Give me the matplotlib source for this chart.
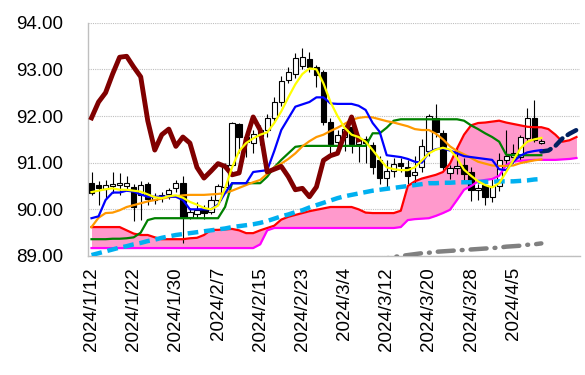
import matplotlib
matplotlib.use('Agg')
import matplotlib.pyplot as plt

# Daily candles (index 0 = 2024/1/12, weekdays only)
opens = [90.56, 90.52, 90.44, 90.50, 90.52, 90.50, 90.48, 90.30, 90.54, 90.20,
         90.25, 90.32, 90.45, 90.56, 89.84, 89.90, 89.98, 89.95, 90.20, 90.48,
         90.95, 91.82, 91.55, 91.42, 91.58, 91.70, 91.95, 92.30, 92.77, 92.90,
         93.08, 93.22, 93.05, 92.95, 91.87, 91.45, 91.55, 91.76, 91.40, 91.50,
         91.38, 91.05, 90.67, 90.82, 91.00, 90.90, 90.74, 90.90, 91.25, 91.95,
         91.63, 90.78, 90.88, 90.95, 90.80, 90.42, 90.52, 90.26, 90.50, 91.05,
         91.12, 91.12, 91.53, 91.96, 91.43]
highs = [90.80, 90.60, 90.62, 90.80, 90.78, 90.72, 90.55, 90.60, 90.58, 90.35,
         90.38, 90.45, 90.62, 90.72, 90.02, 90.15, 90.10, 90.28, 90.55, 91.00,
         91.88, 91.85, 91.62, 91.70, 91.80, 92.05, 92.40, 92.85, 93.05, 93.35,
         93.45, 93.38, 93.10, 92.98, 91.95, 91.70, 91.80, 91.82, 91.60, 91.58,
         91.45, 91.15, 91.05, 91.10, 91.10, 91.05, 91.15, 91.50, 92.05, 92.25,
         91.70, 90.95, 91.35, 91.10, 90.90, 90.55, 90.58, 90.65, 91.20, 91.70,
         91.40, 91.60, 92.17, 92.34, 91.50]
lows = [90.30, 90.10, 90.25, 90.35, 90.30, 90.40, 89.75, 89.78, 90.10, 90.12,
        90.15, 90.22, 90.38, 89.28, 89.80, 89.82, 89.80, 89.90, 90.10, 90.45,
        90.90, 91.20, 91.12, 91.20, 91.38, 91.55, 91.88, 92.22, 92.70, 92.82,
        93.00, 92.95, 92.62, 91.80, 91.20, 91.30, 91.25, 91.20, 91.02, 91.00,
        90.75, 90.55, 90.45, 90.70, 90.80, 90.55, 90.55, 90.80, 91.15, 91.55,
        90.85, 90.65, 90.75, 90.60, 90.18, 90.20, 90.10, 90.15, 90.40, 90.95,
        91.00, 91.05, 91.45, 91.45, 91.40]
closes = [90.36, 90.46, 90.52, 90.55, 90.56, 90.56, 90.05, 90.52, 90.22, 90.26,
          90.30, 90.42, 90.56, 89.84, 89.95, 89.98, 89.92, 90.20, 90.50, 90.95,
          91.85, 91.55, 91.45, 91.62, 91.70, 91.96, 92.30, 92.75, 92.95, 93.24,
          93.27, 93.05, 92.88, 91.88, 91.40, 91.60, 91.72, 91.40, 91.52, 91.42,
          90.90, 90.67, 90.82, 90.98, 90.92, 90.72, 90.80, 91.35, 92.00, 91.65,
          90.90, 90.88, 90.92, 90.75, 90.42, 90.46, 90.27, 90.50, 91.05, 91.15,
          91.20, 91.55, 91.96, 91.49, 91.47]

# Lines
ma5 = [90.37, 90.40, 90.43, 90.45, 90.42, 90.42, 90.40, 90.38, 90.32, 90.26,
       90.24, 90.28, 90.30, 90.25, 90.16, 90.10, 90.03, 90.00, 90.08, 90.45,
       90.90, 91.25, 91.42, 91.52, 91.60, 91.65, 91.85, 92.10, 92.40, 92.68,
       92.90, 93.02, 93.00, 92.70, 92.30, 92.00, 91.75, 91.60, 91.55, 91.45,
       91.27, 91.08, 90.90, 90.86, 90.84, 90.84, 90.90, 91.05, 91.20, 91.28,
       91.32, 91.28, 91.10, 90.85, 90.72, 90.60, 90.52, 90.47, 90.56, 90.80,
       91.05, 91.30, 91.45, 91.50, 91.53]
ma25 = [89.62, 89.82, 89.92, 89.93, 89.98, 90.05, 90.09, 90.13, 90.17, 90.20,
        90.23, 90.26, 90.28, 90.30, 90.31, 90.31, 90.31, 90.32, 90.33, 90.35,
        90.40, 90.46, 90.52, 90.58, 90.63, 90.76, 90.90, 90.98, 91.08, 91.20,
        91.35, 91.46, 91.55, 91.60, 91.68, 91.75, 91.83, 91.92, 91.96, 91.98,
        91.97, 91.93, 91.89, 91.86, 91.82, 91.78, 91.72, 91.70, 91.70, 91.62,
        91.50, 91.35, 91.25, 91.18, 91.10, 91.02, 90.98, 90.94, 90.93, 90.93,
        90.94, 90.99, 91.02, 91.05, 91.07]
ma75 = [89.02, 89.06, 89.10, 89.14, 89.18, 89.21, 89.25, 89.28, 89.32, 89.35,
        89.39, 89.42, 89.45, 89.47, 89.49, 89.51, 89.53, 89.55, 89.57, 89.59,
        89.62, 89.64, 89.66, 89.68, 89.71, 89.75, 89.80, 89.85, 89.89, 89.94,
        89.98, 90.04, 90.09, 90.14, 90.19, 90.24, 90.28, 90.31, 90.34, 90.37,
        90.40, 90.42, 90.44, 90.46, 90.48, 90.50, 90.52, 90.54, 90.56, 90.56,
        90.57, 90.57, 90.58, 90.58, 90.58, 90.59, 90.59, 90.59, 90.60, 90.60,
        90.60, 90.61, 90.62, 90.64, 90.65]
ma200_start = 40
ma200 = [88.90, 88.93, 88.95, 88.98, 89.00, 89.02, 89.04, 89.06, 89.07, 89.09,
         89.10, 89.11, 89.12, 89.13, 89.14, 89.15, 89.16, 89.17, 89.18, 89.20,
         89.21, 89.22, 89.24, 89.25, 89.27]
tenkan = [89.81, 89.85, 90.20, 90.36, 90.36, 90.40, 90.38, 90.32, 90.27, 90.27,
          90.27, 90.27, 90.27, 90.20, 90.00, 90.00, 90.00, 90.00, 90.10, 90.35,
          90.56, 90.56, 90.56, 90.80, 90.82, 90.84, 91.25, 91.70, 91.95, 92.20,
          92.25, 92.30, 92.40, 92.40, 92.27, 92.26, 92.26, 92.26, 92.22, 92.13,
          91.85, 91.66, 91.16, 91.14, 91.12, 91.08, 91.02, 91.00, 91.22, 91.29,
          91.31, 91.26, 91.20, 91.14, 91.12, 91.10, 91.08, 91.06, 90.86, 90.84,
          91.02, 91.15, 91.22, 91.25, 91.27]
kijun = [89.36, 89.36, 89.36, 89.37, 89.37, 89.38, 89.40, 89.50, 89.77, 89.81,
         89.81, 89.81, 89.81, 89.81, 89.81, 89.81, 89.81, 89.81, 89.81, 90.05,
         90.56, 90.56, 90.56, 90.56, 90.56, 90.70, 90.90, 91.06, 91.20, 91.34,
         91.36, 91.36, 91.36, 91.36, 91.36, 91.36, 91.36, 91.36, 91.36, 91.36,
         91.63, 91.63, 91.75, 91.90, 91.93, 91.93, 91.93, 91.93, 91.93, 91.93,
         91.93, 91.93, 91.93, 91.90, 91.80, 91.72, 91.63, 91.55, 91.45, 91.17,
         91.16, 91.16, 91.16, 91.16, 91.16]
chikou = [91.96, 92.30, 92.50, 92.90, 93.26, 93.28, 93.05, 92.84, 91.90, 91.27,
          91.60, 91.72, 91.35, 91.55, 91.42, 90.90, 90.67, 90.82, 90.98, 90.92,
          90.74, 90.78, 91.50, 91.98, 91.70, 90.80, 90.86, 90.92, 90.70, 90.42,
          90.45, 90.27, 90.48, 91.05, 91.15, 91.20, 91.60, 91.98, 91.49]
senkou_a = [89.62, 89.62, 89.62, 89.62, 89.62, 89.55, 89.48, 89.45, 89.45, 89.40,
            89.36, 89.36, 89.36, 89.36, 89.38, 89.39, 89.45, 89.56, 89.56, 89.57,
            89.58, 89.55, 89.49, 89.49, 89.55, 89.60, 89.65, 89.78, 89.84, 89.88,
            89.92, 89.96, 89.99, 90.02, 90.05, 90.05, 90.05, 90.05, 90.00, 89.93,
            89.92, 89.92, 89.92, 89.92, 89.97, 90.50, 90.60, 90.66, 90.70, 90.74,
            90.80, 90.98, 91.30, 91.60, 91.80, 91.85, 91.86, 91.88, 91.90, 91.86,
            91.83, 91.80, 91.77, 91.76, 91.76, 91.72, 91.60, 91.45, 91.48, 91.55]
senkou_b = [89.17, 89.17, 89.17, 89.17, 89.17, 89.17, 89.17, 89.17, 89.17, 89.17,
            89.17, 89.17, 89.17, 89.17, 89.17, 89.17, 89.17, 89.17, 89.17, 89.17,
            89.17, 89.17, 89.17, 89.17, 89.25, 89.55, 89.60, 89.60, 89.60, 89.60,
            89.60, 89.60, 89.60, 89.60, 89.60, 89.60, 89.60, 89.60, 89.60, 89.60,
            89.60, 89.60, 89.60, 89.60, 89.62, 89.77, 89.79, 89.80, 89.81, 89.86,
            89.92, 89.99, 90.20, 90.42, 90.50, 90.60, 90.63, 90.65, 90.72, 90.95,
            91.02, 91.04, 91.05, 91.06, 91.06, 91.06, 91.06, 91.07, 91.08, 91.10]
forecast_start = 64
forecast = [91.24, 91.26, 91.36, 91.52, 91.62, 91.70]

tick_labels = ['2024/1/12', '2024/1/22', '2024/1/30', '2024/2/7', '2024/2/15',
               '2024/2/23', '2024/3/4', '2024/3/12', '2024/3/20', '2024/3/28',
               '2024/4/5']


def draw_candles(ax):
    for i in range(len(closes)):
        o, h, l, c = opens[i], highs[i], lows[i], closes[i]
        ax.vlines(i, l, h, color='black', linewidth=0.8, zorder=3)
        bottom = min(o, c)
        height = max(abs(c - o), 0.015)
        face = 'white' if c >= o else 'black'
        ax.bar(i, height, bottom=bottom, width=0.75, color=face,
               edgecolor='black', linewidth=0.8, zorder=4)


def main():
    plt.rcParams['font.family'] = ['Liberation Sans', 'DejaVu Sans']
    fig = plt.figure(figsize=(5.85, 3.75), dpi=100)
    ax = fig.add_axes([88 / 585, 119 / 375, 492 / 585, 233.3 / 375])

    n_all = len(senkou_a)
    xs_all = list(range(n_all))
    xs = list(range(len(closes)))

    # cloud
    ax.fill_between(xs_all, senkou_a, senkou_b, color='#ff99cc', linewidth=0, zorder=1)
    ax.plot(xs_all, senkou_a, color='#ff0000', linewidth=1.6, zorder=5)
    ax.plot(xs_all, senkou_b, color='#ff00ff', linewidth=1.6, zorder=5)

    draw_candles(ax)

    ax.plot(xs, ma75, color='#00b0f0', linewidth=3.2, dashes=(2.4, 1.3), zorder=6)
    gx = list(range(ma200_start, ma200_start + len(ma200)))
    ax.plot(gx, ma200, color='#808080', linewidth=3.2, dashes=(3.6, 1.8, 0.2, 1.8),
            dash_capstyle='round', zorder=6)
    fx = list(range(forecast_start, forecast_start + len(forecast)))
    ax.plot(fx, forecast, color='#002060', linewidth=3.2, dashes=(2.2, 1.4),
            dash_capstyle='round', zorder=6)
    ax.plot(xs, kijun, color='#008000', linewidth=1.6, zorder=7)
    ax.plot(xs, ma25, color='#ff9900', linewidth=1.6, zorder=7)
    ax.plot(xs, tenkan, color='#0000ff', linewidth=1.6, zorder=7)
    ax.plot(list(range(len(chikou))), chikou, color='#800000', linewidth=3.5, zorder=8)
    ax.plot(xs, ma5, color='#ffff00', linewidth=1.6, zorder=9)

    ax.set_xlim(-0.5, n_all - 0.5)
    ax.set_ylim(89, 94)
    ax.set_yticks([89, 90, 91, 92, 93, 94])
    ax.set_yticklabels(['%.2f' % v for v in [89, 90, 91, 92, 93, 94]])
    ax.set_xticks(list(range(0, 6 * len(tick_labels), 6)))
    ax.set_xticklabels(tick_labels, rotation=90)
    ax.tick_params(axis='both', length=0, labelsize=13.5)
    ax.tick_params(axis='y', pad=18)
    ax.tick_params(axis='x', pad=8)

    ax.grid(axis='y', color='#bfbfbf', linestyle=(0, (1, 1)), linewidth=0.8)
    ax.set_axisbelow(True)
    for side in ['top', 'right']:
        ax.spines[side].set_visible(False)
    for side in ['left', 'bottom']:
        ax.spines[side].set_color('#bfbfbf')
        ax.spines[side].set_linewidth(1.0)

    fig.savefig('out.png', dpi=100)


if __name__ == '__main__':
    main()
